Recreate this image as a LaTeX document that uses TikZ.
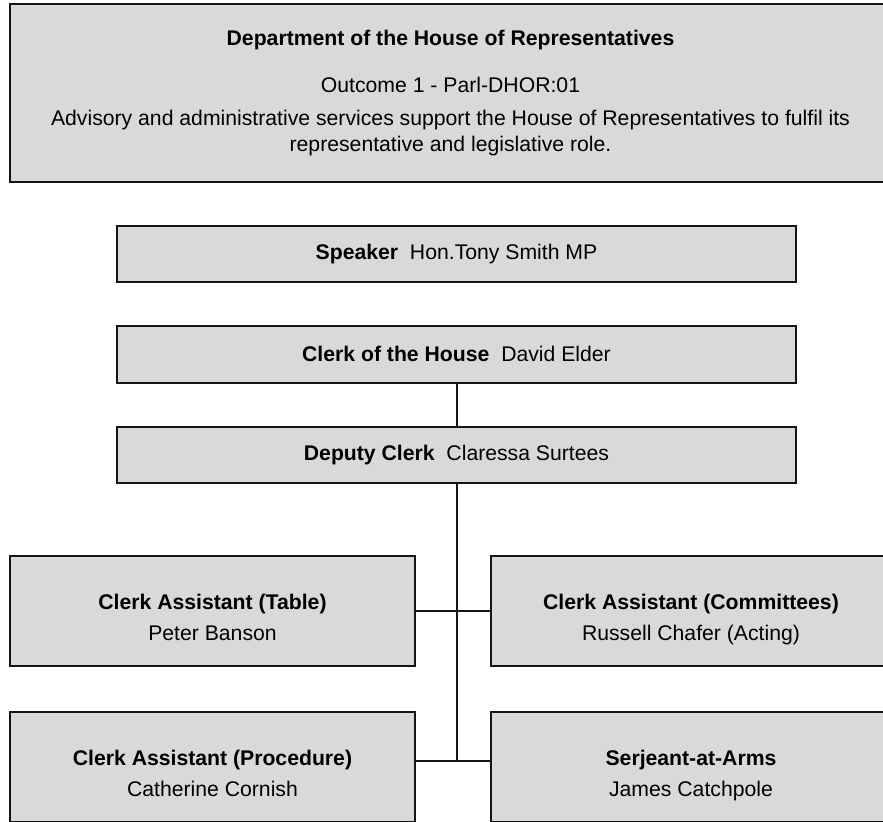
\documentclass[tikz,border=0pt]{standalone}
\usepackage{fontspec}
\setmainfont{Liberation Sans}
\usepackage{tikz}
\usepackage{xcolor}
\usetikzlibrary{positioning}
\definecolor{orggray}{RGB}{217, 217, 217}
\definecolor{orgline}{RGB}{20, 20, 20}
\newcommand{\orgrole}[2]{\rule{0pt}{17pt}\textbf{#1}\\[2.5pt] #2\rule[-3pt]{0pt}{3pt}}
\tikzset{
    orgbox/.style={rectangle, draw=orgline, line width=1pt, fill=orggray, inner sep=0pt, align=center, font=\fontsize{10.6}{13}\selectfont},
    deptbox/.style={orgbox, minimum width=440.5pt, minimum height=88.75pt},
    rolebox/.style={orgbox, minimum width=339.5pt, minimum height=28.25pt},
    leftbox/.style={orgbox, minimum width=202.5pt, minimum height=55pt},
    rightbox/.style={leftbox, minimum width=200pt},
    link/.style={draw=orgline, line width=1pt}
}

\begin{document}
\begin{tikzpicture}[x=0.5pt, y=-0.5pt]
    \useasboundingbox (0,0) rectangle (883,821);
    \clip (0,0) rectangle (883,821);
    \node[deptbox] (dept) at (450.5,92.75)
        {\textbf{Department of the House of Representatives}\\[10.5pt]
         Outcome 1 - Parl-DHOR:01\\[3.5pt]
         Advisory and administrative services support the House of Representatives to fulfil its\\
         representative and legislative role.};
    \node[rolebox, below=21pt of dept, xshift=3pt] (speaker) {\textbf{Speaker}\ \ Hon.Tony Smith MP};
    \node[rolebox, below=21pt of speaker] (clerk) {\textbf{Clerk of the House}\ \ David Elder};
    \node[rolebox, below=21pt of clerk] (deputy) {\textbf{Deputy Clerk}\ \ Claressa Surtees};
    \node[leftbox, below=35.5pt of deputy, xshift=-122pt] (catable)
        {\orgrole{Clerk Assistant (Table)}{Peter Banson}};
    \node[rightbox, right=37pt of catable] (cacomm)
        {\orgrole{Clerk Assistant (Committees)}{Russell Chafer (Acting)}};
    \node[leftbox, below=22pt of catable] (caproc)
        {\orgrole{Clerk Assistant (Procedure)}{Catherine Cornish}};
    \node[rightbox, below=22pt of cacomm] (serjeant)
        {\orgrole{Serjeant-at-Arms}{James Catchpole}};
    \coordinate[below=138.5pt of deputy.south] (spine);
    % connectors
    \draw[link] (clerk) -- (deputy);
    \draw[link] (deputy) -- (spine);
    \draw[link] (catable) -- (cacomm);
    \draw[link] (caproc.east |- spine) -- (serjeant.west |- spine);
\end{tikzpicture}
\end{document}
